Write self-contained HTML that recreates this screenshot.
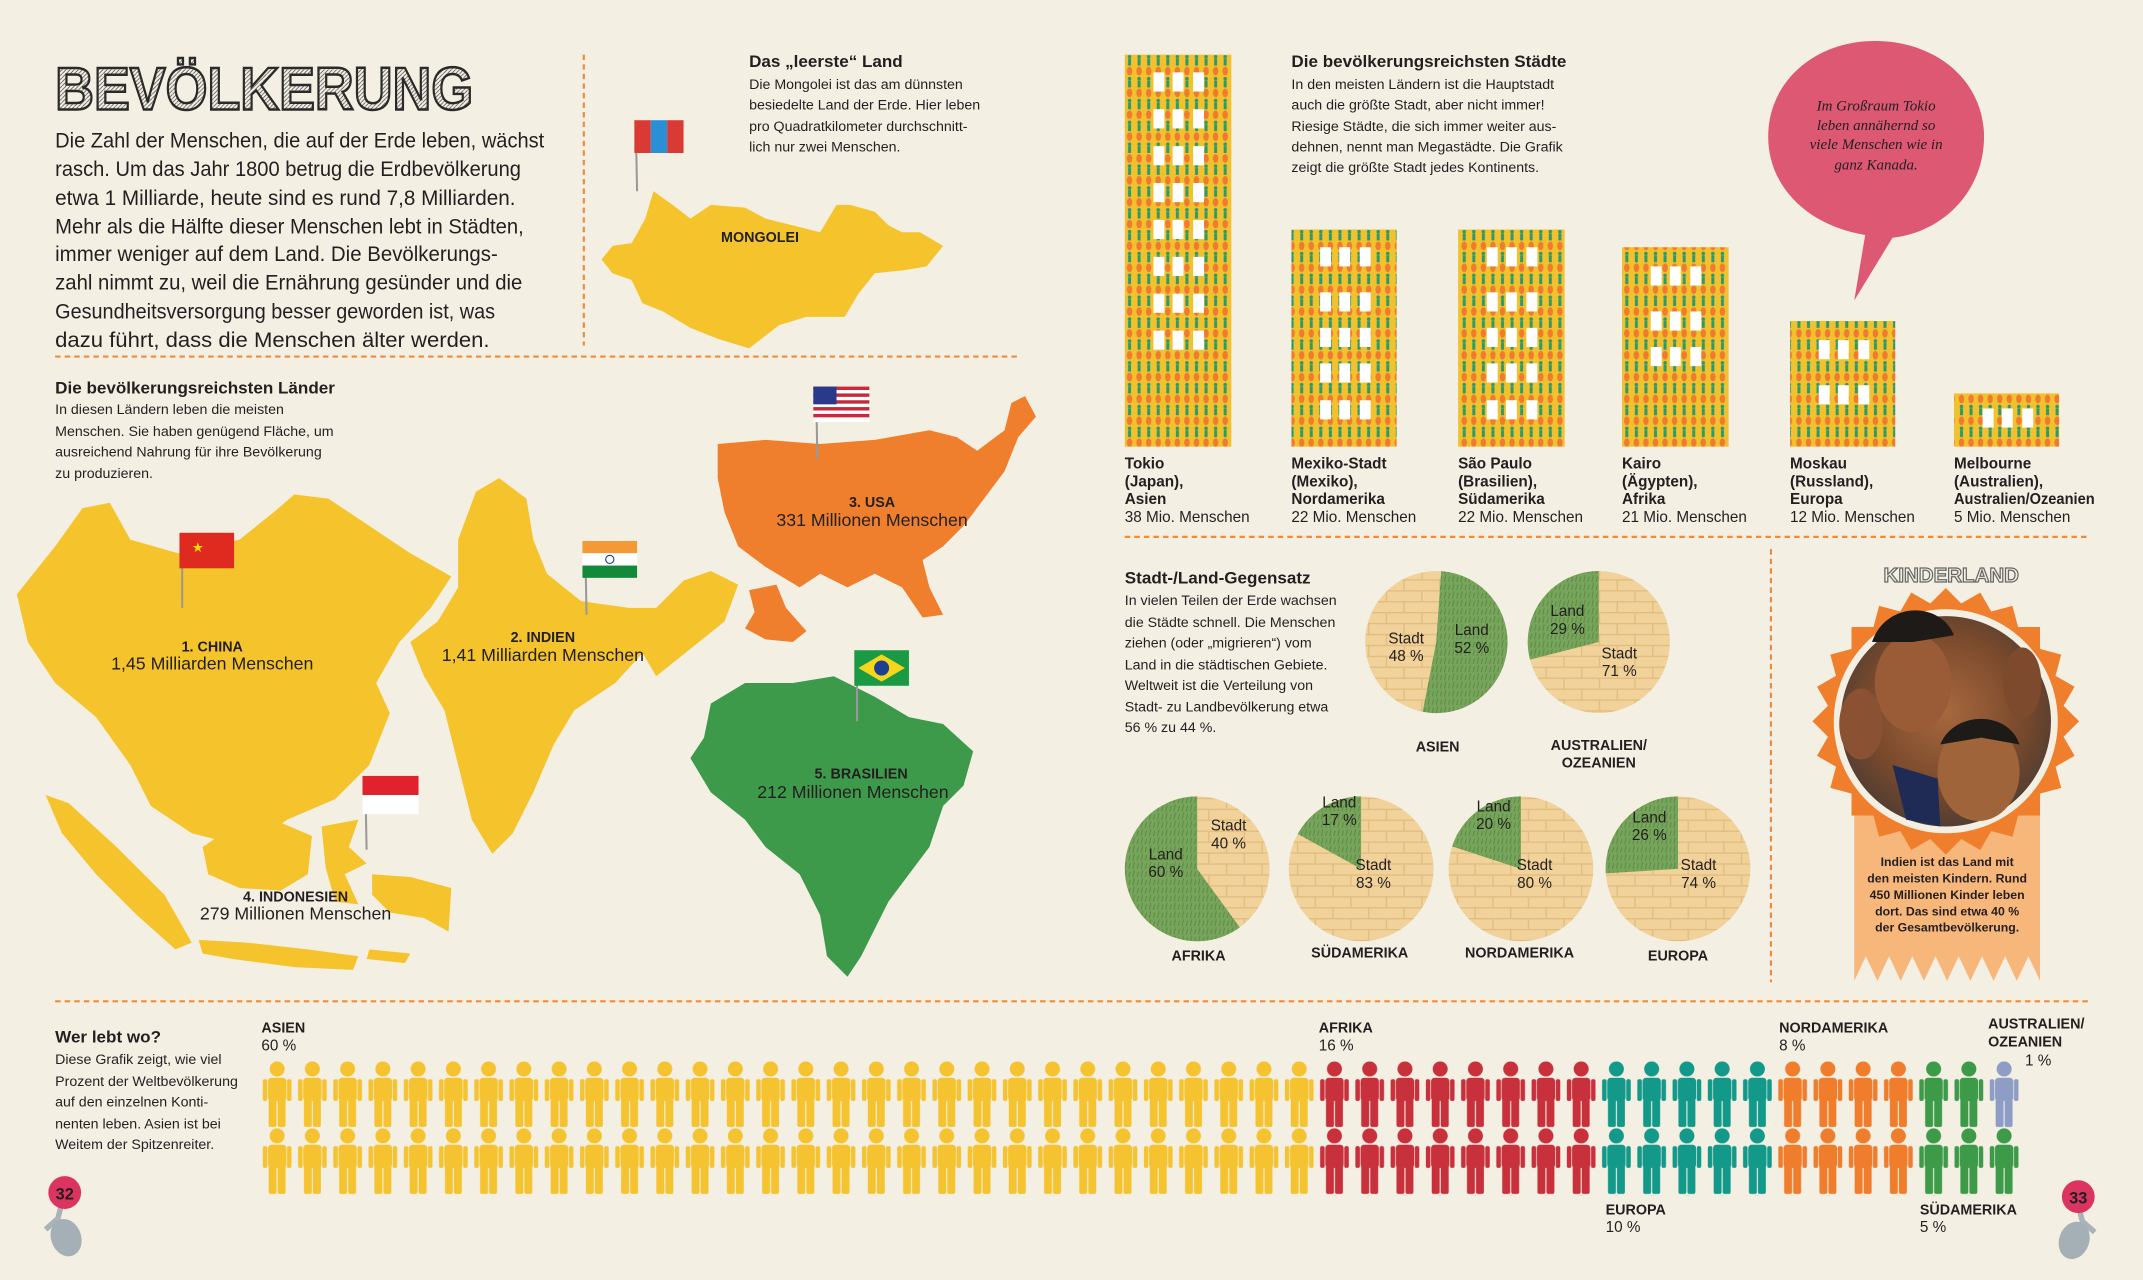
<!DOCTYPE html>
<html><head><meta charset="utf-8">
<style>
html,body{margin:0;padding:0;background:#f4efe3;}
svg{display:block}
text{font-family:"Liberation Sans Narrow","Liberation Sans",sans-serif;fill:#231f20}
.h{font-family:"Liberation Sans",sans-serif;font-weight:bold;font-size:12.5px}
.b{font-size:10.4px}
.lb{font-family:"Liberation Sans",sans-serif;font-weight:bold;font-size:10.5px}
.c{font-size:11.2px}
.m{font-size:15.8px}
</style></head><body>
<svg width="2143" height="1280" viewBox="0 0 1568 937" xmlns="http://www.w3.org/2000/svg">
<defs>
<g id="p">
<circle cx="11.5" cy="5.5" r="5.5"/>
<rect x="4.8" y="12" width="13.4" height="17" rx="2.5"/>
<rect x="1" y="13" width="3.3" height="16" rx="1.5"/>
<rect x="18.7" y="13" width="3.3" height="16" rx="1.5"/>
<rect x="5.3" y="27" width="5.8" height="21" rx="1.5"/>
<rect x="11.9" y="27" width="5.8" height="21" rx="1.5"/>
</g>
<pattern id="py" patternUnits="userSpaceOnUse" x="191" y="777" width="25.8" height="49"><use href="#p" fill="#f5c330"/></pattern>
<pattern id="pr" patternUnits="userSpaceOnUse" x="191" y="777" width="25.8" height="49"><use href="#p" fill="#c8303b"/></pattern>
<pattern id="pt" patternUnits="userSpaceOnUse" x="191" y="777" width="25.8" height="49"><use href="#p" fill="#12998a"/></pattern>
<pattern id="po" patternUnits="userSpaceOnUse" x="191" y="777" width="25.8" height="49"><use href="#p" fill="#ef7d2b"/></pattern>
<pattern id="pg" patternUnits="userSpaceOnUse" x="191" y="777" width="25.8" height="49"><use href="#p" fill="#3c9a48"/></pattern>
<pattern id="pb" patternUnits="userSpaceOnUse" x="191" y="777" width="25.8" height="49"><use href="#p" fill="#8e9dc6"/></pattern>
<pattern id="bld" patternUnits="userSpaceOnUse" x="823" y="40" width="7" height="16">
<rect width="7" height="16" fill="#f2c12e"/>
<circle cx="3.5" cy="1.6" r="1.3" fill="#2e9a6a"/>
<rect x="2.4" y="3" width="2.2" height="5" fill="#2e9a6a"/>
<ellipse cx="3.5" cy="12" rx="2" ry="3.2" fill="#ef7a30"/>
</pattern>
<pattern id="brick" patternUnits="userSpaceOnUse" width="26" height="16">
<rect width="26" height="16" fill="#f0d29a"/>
<path d="M0 0.5H26M0 8.5H26M0.5 0V8M13.5 8V16" stroke="#e2bd7e" stroke-width="1"/>
</pattern>
<pattern id="grass" patternUnits="userSpaceOnUse" width="6" height="6">
<rect width="6" height="6" fill="#78a55c"/>
<path d="M1 6L2 1M4 6L5 2" stroke="#5e8c47" stroke-width="0.8"/>
</pattern>
<pattern id="sk" patternUnits="userSpaceOnUse" width="3" height="3">
<rect width="3" height="3" fill="#f4efe3"/>
<path d="M0 3L3 0" stroke="#555" stroke-width="0.6"/>
</pattern>
<radialGradient id="ph" cx="0.5" cy="0.45" r="0.6">
<stop offset="0" stop-color="#a8683e"/><stop offset="0.6" stop-color="#7a4a2c"/><stop offset="1" stop-color="#4a3a34"/>
</radialGradient>
</defs>

<rect width="1568" height="937" fill="#f4efe3"/>

<g stroke="#ef8c3c" stroke-width="1.6" stroke-dasharray="4,3" fill="none">
<line x1="427" y1="40" x2="427" y2="253"/>
<line x1="40" y1="261" x2="745" y2="261"/>
<line x1="823" y1="393" x2="1530" y2="393"/>
<line x1="1296" y1="402" x2="1296" y2="719"/>
<line x1="40" y1="733" x2="1530" y2="733"/>
</g>

<text x="40" y="80" font-weight="bold" font-size="44" textLength="306" lengthAdjust="spacingAndGlyphs" style="fill:url(#sk);stroke:#2a2a2a;stroke-width:1.8;font-family:'Liberation Sans',sans-serif">BEVÖLKERUNG</text>
<text class="m" x="40" y="108" textLength="358" lengthAdjust="spacingAndGlyphs">Die Zahl der Menschen, die auf der Erde leben, wächst</text>
<text class="m" x="40" y="129" textLength="341" lengthAdjust="spacingAndGlyphs">rasch. Um das Jahr 1800 betrug die Erdbevölkerung</text>
<text class="m" x="40" y="150" textLength="337" lengthAdjust="spacingAndGlyphs">etwa 1 Milliarde, heute sind es rund 7,8 Milliarden.</text>
<text class="m" x="40" y="171" textLength="343" lengthAdjust="spacingAndGlyphs">Mehr als die Hälfte dieser Menschen lebt in Städten,</text>
<text class="m" x="40" y="191" textLength="324" lengthAdjust="spacingAndGlyphs">immer weniger auf dem Land. Die Bevölkerungs-</text>
<text class="m" x="40" y="212" textLength="342" lengthAdjust="spacingAndGlyphs">zahl nimmt zu, weil die Ernährung gesünder und die</text>
<text class="m" x="40" y="233" textLength="322" lengthAdjust="spacingAndGlyphs">Gesundheitsversorgung besser geworden ist, was</text>
<text class="m" x="40" y="254" textLength="318" lengthAdjust="spacingAndGlyphs">dazu führt, dass die Menschen älter werden.</text>

<text class="h" x="548" y="49">Das „leerste“ Land</text>
<text class="b" x="548" y="65">Die Mongolei ist das am dünnsten</text>
<text class="b" x="548" y="80">besiedelte Land der Erde. Hier leben</text>
<text class="b" x="548" y="96">pro Quadratkilometer durchschnitt-</text>
<text class="b" x="548" y="111">lich nur zwei Menschen.</text>
<path fill="#f5c42d" d="M440,190 L448,180 L462,178 L472,160 L478,140 L492,150 L505,160 L520,150 L545,152 L560,160 L580,165 L600,170 L612,150 L622,150 L640,155 L650,165 L660,170 L673,170 L690,180 L678,195 L660,198 L640,200 L628,215 L618,232 L590,232 L570,238 L548,255 L525,248 L505,240 L485,228 L470,222 L462,205 L448,200 Z"/>
<text class="lb" x="556" y="177" text-anchor="middle">MONGOLEI</text>
<line x1="465" y1="90" x2="466" y2="140" stroke="#999" stroke-width="1.5"/>
<rect x="464" y="88" width="12" height="24" fill="#d93a33"/><rect x="476" y="88" width="12" height="24" fill="#2a8fd6"/><rect x="488" y="88" width="12" height="24" fill="#d93a33"/>

<text class="h" x="40" y="288">Die bevölkerungsreichsten Länder</text>
<text class="b" x="40" y="303">In diesen Ländern leben die meisten</text>
<text class="b" x="40" y="319">Menschen. Sie haben genügend Fläche, um</text>
<text class="b" x="40" y="334">ausreichend Nahrung für ihre Bevölkerung</text>
<text class="b" x="40" y="350">zu produzieren.</text>

<path fill="#f5c42d" d="M12,435 L40,400 L60,372 L80,368 L95,395 L130,405 L175,395 L200,375 L215,362 L240,365 L270,385 L300,405 L330,422 L315,445 L292,470 L275,500 L285,522 L270,560 L245,585 L210,600 L180,620 L140,610 L110,590 L95,560 L70,525 L40,500 L20,470 Z"/>
<path fill="#f5c42d" d="M300,470 L320,455 L335,430 L335,395 L348,360 L365,350 L385,365 L390,395 L400,420 L425,440 L460,445 L480,445 L500,425 L520,418 L540,428 L530,455 L505,475 L480,495 L470,478 L450,500 L420,520 L405,545 L390,580 L375,610 L360,625 L345,600 L335,560 L325,520 L310,495 Z"/>
<g fill="#f5c42d">
<path d="M33,582 L50,588 L85,620 L120,655 L140,690 L128,695 L100,670 L70,640 L45,610 Z"/>
<path d="M145,688 L180,690 L225,695 L262,700 L258,710 L215,708 L170,702 L148,698 Z"/>
<path d="M148,620 L170,605 L200,600 L228,612 L225,640 L205,652 L175,650 L152,640 Z"/>
<path d="M235,605 L262,600 L255,620 L268,632 L252,640 L262,662 L245,660 L238,635 Z"/>
<path d="M272,640 L300,642 L330,650 L328,682 L310,672 L285,668 L272,655 Z"/>
<path d="M270,695 L300,698 L296,705 L268,702 Z"/>
</g>
<path fill="#ef7f2c" d="M525,325 L560,322 L600,325 L640,322 L680,315 L700,320 L715,330 L735,315 L740,295 L750,290 L758,305 L745,320 L735,345 L720,365 L705,385 L690,400 L675,410 L680,430 L690,450 L675,452 L660,430 L640,420 L620,430 L600,420 L585,430 L560,415 L540,400 L530,375 L525,350 Z"/>
<path fill="#ef7f2c" d="M548,432 L568,428 L575,445 L590,462 L580,470 L560,468 L545,460 L552,448 Z"/>
<path fill="#3d9a4b" d="M520,515 L545,500 L580,500 L610,495 L640,510 L665,525 L690,530 L712,550 L705,575 L690,590 L680,620 L665,640 L650,660 L640,680 L630,700 L620,715 L605,700 L600,670 L585,640 L560,620 L545,600 L520,580 L505,555 L515,540 Z"/>

<g stroke="#999" stroke-width="1.5"><line x1="133" y1="392" x2="133" y2="445"/><line x1="428" y1="398" x2="429" y2="450"/><line x1="597" y1="285" x2="598" y2="336"/><line x1="267" y1="570" x2="268" y2="622"/><line x1="627" y1="477" x2="627" y2="528"/></g>
<rect x="131" y="390" width="40" height="26" fill="#de2a1f"/><text x="140" y="404" style="fill:#ffde00;font-size:10px">★</text>
<rect x="426" y="396" width="40" height="9" fill="#f39a36"/><rect x="426" y="405" width="40" height="9" fill="#fff"/><rect x="426" y="414" width="40" height="9" fill="#138a3a"/><circle cx="446" cy="409.5" r="3" fill="none" stroke="#1a3a8a" stroke-width="0.8"/>
<rect x="595" y="283" width="41" height="26" fill="#fff"/><g fill="#c8283a"><rect x="595" y="283" width="41" height="2.5"/><rect x="595" y="288" width="41" height="2.5"/><rect x="595" y="293" width="41" height="2.5"/><rect x="595" y="298" width="41" height="2.5"/><rect x="595" y="303" width="41" height="2.5"/></g><rect x="595" y="283" width="17" height="13" fill="#2a3a8a"/>
<rect x="265" y="568" width="41" height="14" fill="#e0222d"/><rect x="265" y="582" width="41" height="14" fill="#fff"/>
<rect x="625" y="476" width="40" height="26" fill="#1a9a44"/><path d="M645,479 L662,489 L645,499 L628,489 Z" fill="#f7d51b"/><circle cx="645" cy="489" r="5.5" fill="#1d3f8f"/>

<text class="lb" x="155" y="477" text-anchor="middle">1. CHINA</text><text x="155" y="490" text-anchor="middle" style="font-size:13px">1,45 Milliarden Menschen</text>
<text class="lb" x="397" y="470" text-anchor="middle">2. INDIEN</text><text x="397" y="484" text-anchor="middle" style="font-size:13px">1,41 Milliarden Menschen</text>
<text class="lb" x="638" y="371" text-anchor="middle">3. USA</text><text x="638" y="385" text-anchor="middle" style="font-size:13px">331 Millionen Menschen</text>
<text class="lb" x="216" y="660" text-anchor="middle">4. INDONESIEN</text><text x="216" y="673" text-anchor="middle" style="font-size:13px">279 Millionen Menschen</text>
<text class="lb" x="630" y="570" text-anchor="middle">5. BRASILIEN</text><text x="624" y="584" text-anchor="middle" style="font-size:13px">212 Millionen Menschen</text>

<g fill="url(#bld)">
<rect x="823" y="40" width="78" height="287"/>
<rect x="945" y="168" width="77" height="159"/>
<rect x="1067" y="168" width="78" height="159"/>
<rect x="1187" y="181" width="78" height="146"/>
<rect x="1310" y="235" width="77" height="92"/>
<rect x="1430" y="288" width="77" height="39"/>
</g>
<g fill="#fff">
<g id="w3"><rect x="844" y="53" width="8" height="14"/><rect x="858" y="53" width="8" height="14"/><rect x="873" y="53" width="8" height="14"/></g>
<use href="#w3" y="27"/><use href="#w3" y="54"/><use href="#w3" y="81"/><use href="#w3" y="108"/><use href="#w3" y="135"/><use href="#w3" y="162"/><use href="#w3" y="189"/>
<use href="#w3" x="122" y="128"/><use href="#w3" x="122" y="161"/><use href="#w3" x="122" y="187"/><use href="#w3" x="122" y="213"/><use href="#w3" x="122" y="240"/>
<use href="#w3" x="244" y="128"/><use href="#w3" x="244" y="161"/><use href="#w3" x="244" y="187"/><use href="#w3" x="244" y="213"/><use href="#w3" x="244" y="240"/>
<use href="#w3" x="364" y="142"/><use href="#w3" x="364" y="175"/><use href="#w3" x="364" y="201"/>
<use href="#w3" x="487" y="196"/><use href="#w3" x="487" y="229"/>
<use href="#w3" x="607" y="246"/>
</g>
<text class="h" x="945" y="49">Die bevölkerungsreichsten Städte</text>
<text class="b" x="945" y="65">In den meisten Ländern ist die Hauptstadt</text>
<text class="b" x="945" y="80">auch die größte Stadt, aber nicht immer!</text>
<text class="b" x="945" y="96">Riesige Städte, die sich immer weiter aus-</text>
<text class="b" x="945" y="111">dehnen, nennt man Megastädte. Die Grafik</text>
<text class="b" x="945" y="126">zeigt die größte Stadt jedes Kontinents.</text>

<text class="c" x="823" y="343" font-weight="bold">Tokio</text><text class="c" x="823" y="356" font-weight="bold">(Japan),</text><text class="c" x="823" y="369" font-weight="bold">Asien</text><text class="c" x="823" y="382">38 Mio. Menschen</text>
<text class="c" x="945" y="343" font-weight="bold">Mexiko-Stadt</text><text class="c" x="945" y="356" font-weight="bold">(Mexiko),</text><text class="c" x="945" y="369" font-weight="bold">Nordamerika</text><text class="c" x="945" y="382">22 Mio. Menschen</text>
<text class="c" x="1067" y="343" font-weight="bold">São Paulo</text><text class="c" x="1067" y="356" font-weight="bold">(Brasilien),</text><text class="c" x="1067" y="369" font-weight="bold">Südamerika</text><text class="c" x="1067" y="382">22 Mio. Menschen</text>
<text class="c" x="1187" y="343" font-weight="bold">Kairo</text><text class="c" x="1187" y="356" font-weight="bold">(Ägypten),</text><text class="c" x="1187" y="369" font-weight="bold">Afrika</text><text class="c" x="1187" y="382">21 Mio. Menschen</text>
<text class="c" x="1310" y="343" font-weight="bold">Moskau</text><text class="c" x="1310" y="356" font-weight="bold">(Russland),</text><text class="c" x="1310" y="369" font-weight="bold">Europa</text><text class="c" x="1310" y="382">12 Mio. Menschen</text>
<text class="c" x="1430" y="343" font-weight="bold">Melbourne</text><text class="c" x="1430" y="356" font-weight="bold">(Australien),</text><text class="c" x="1430" y="369" font-weight="bold" textLength="103" lengthAdjust="spacingAndGlyphs">Australien/Ozeanien</text><text class="c" x="1430" y="382">5 Mio. Menschen</text>

<path fill="#dc5873" d="M1372,30 C1418,30 1452,60 1452,100 C1452,140 1422,170 1385,174 L1357,220 L1365,172 C1322,165 1294,136 1294,100 C1294,60 1328,30 1372,30 Z"/>
<text x="1373" y="81" text-anchor="middle" style="font-family:'Liberation Serif',serif;font-style:italic;font-size:11px">Im Großraum Tokio</text>
<text x="1373" y="95" text-anchor="middle" style="font-family:'Liberation Serif',serif;font-style:italic;font-size:11px">leben annähernd so</text>
<text x="1373" y="109" text-anchor="middle" style="font-family:'Liberation Serif',serif;font-style:italic;font-size:11px">viele Menschen wie in</text>
<text x="1373" y="124" text-anchor="middle" style="font-family:'Liberation Serif',serif;font-style:italic;font-size:11px">ganz Kanada.</text>

<text class="h" x="823" y="427">Stadt-/Land-Gegensatz</text>
<text class="b" x="823" y="443">In vielen Teilen der Erde wachsen</text>
<text class="b" x="823" y="459">die Städte schnell. Die Menschen</text>
<text class="b" x="823" y="474">ziehen (oder „migrieren“) vom</text>
<text class="b" x="823" y="490">Land in die städtischen Gebiete.</text>
<text class="b" x="823" y="505">Weltweit ist die Verteilung von</text>
<text class="b" x="823" y="521">Stadt- zu Landbevölkerung etwa</text>
<text class="b" x="823" y="536">56 % zu 44 %.</text>

<g fill="url(#brick)">
<circle cx="1051" cy="470" r="52"/><circle cx="1170" cy="470" r="52"/>
<circle cx="876" cy="636" r="53"/><circle cx="996" cy="636" r="53"/><circle cx="1113" cy="636" r="53"/><circle cx="1228" cy="636" r="53"/>
</g>
<g fill="url(#grass)">
<path d="M1051,470 L1054.6,418.1 A52,52 0 1 1 1041.1,521 Z"/>
<path d="M1170,470 L1170,418 A52,52 0 0 0 1119.6,482.9 Z"/>
<path d="M876,636 L876,583 A53,53 0 1 0 907.2,678.9 Z"/>
<path d="M996,636 L996,583 A53,53 0 0 0 949.6,610.5 Z"/>
<path d="M1113,636 L1113,583 A53,53 0 0 0 1062.6,619.6 Z"/>
<path d="M1228,636 L1228,583 A53,53 0 0 0 1175.1,639.3 Z"/>
</g>
<text class="c" x="1029" y="471" text-anchor="middle">Stadt</text><text class="c" x="1029" y="484" text-anchor="middle">48 %</text>
<text class="c" x="1077" y="465" text-anchor="middle">Land</text><text class="c" x="1077" y="478" text-anchor="middle">52 %</text>
<text class="c" x="1147" y="451" text-anchor="middle">Land</text><text class="c" x="1147" y="464" text-anchor="middle">29 %</text>
<text class="c" x="1185" y="482" text-anchor="middle">Stadt</text><text class="c" x="1185" y="495" text-anchor="middle">71 %</text>
<text class="c" x="853" y="629" text-anchor="middle">Land</text><text class="c" x="853" y="642" text-anchor="middle">60 %</text>
<text class="c" x="899" y="608" text-anchor="middle">Stadt</text><text class="c" x="899" y="621" text-anchor="middle">40 %</text>
<text class="c" x="980" y="591" text-anchor="middle">Land</text><text class="c" x="980" y="604" text-anchor="middle">17 %</text>
<text class="c" x="1005" y="637" text-anchor="middle">Stadt</text><text class="c" x="1005" y="650" text-anchor="middle">83 %</text>
<text class="c" x="1093" y="594" text-anchor="middle">Land</text><text class="c" x="1093" y="607" text-anchor="middle">20 %</text>
<text class="c" x="1123" y="637" text-anchor="middle">Stadt</text><text class="c" x="1123" y="650" text-anchor="middle">80 %</text>
<text class="c" x="1207" y="602" text-anchor="middle">Land</text><text class="c" x="1207" y="615" text-anchor="middle">26 %</text>
<text class="c" x="1243" y="637" text-anchor="middle">Stadt</text><text class="c" x="1243" y="650" text-anchor="middle">74 %</text>
<text class="lb" x="1052" y="550" text-anchor="middle">ASIEN</text>
<text class="lb" x="1170" y="549" text-anchor="middle">AUSTRALIEN/</text><text class="lb" x="1170" y="562" text-anchor="middle">OZEANIEN</text>
<text class="lb" x="877" y="703" text-anchor="middle">AFRIKA</text>
<text class="lb" x="995" y="701" text-anchor="middle">SÜDAMERIKA</text>
<text class="lb" x="1112" y="701" text-anchor="middle">NORDAMERIKA</text>
<text class="lb" x="1228" y="703" text-anchor="middle">EUROPA</text>

<polygon fill="#f7b67a" points="1357,560 1493,560 1493,718 1484.5,700 1476,718 1467.5,700 1459,718 1450.5,700 1442,718 1433.5,700 1425,718 1416.5,700 1408,718 1399.5,700 1391,718 1382.5,700 1374,718 1365.5,700 1357,718"/>
<g fill="#ef7f2c" transform="translate(1424,528)">
<rect x="-69" y="-69" width="138" height="138"/>
<rect x="-69" y="-69" width="138" height="138" transform="rotate(15)"/>
<rect x="-69" y="-69" width="138" height="138" transform="rotate(30)"/>
<rect x="-69" y="-69" width="138" height="138" transform="rotate(45)"/>
<rect x="-69" y="-69" width="138" height="138" transform="rotate(60)"/>
<rect x="-69" y="-69" width="138" height="138" transform="rotate(75)"/>
</g>
<circle cx="1424" cy="528" r="82" fill="#f4efe3"/>
<circle cx="1424" cy="528" r="77" fill="url(#ph)"/>
<ellipse cx="1400" cy="500" rx="28" ry="36" fill="#9a5c36"/>
<ellipse cx="1448" cy="565" rx="30" ry="36" fill="#a0643a"/>
<ellipse cx="1362" cy="530" rx="16" ry="26" fill="#8a5232"/>
<ellipse cx="1480" cy="500" rx="14" ry="26" fill="#7e4a2e"/>
<path d="M1370,470 C1380,440 1420,440 1430,465 L1400,470 Z" fill="#1e1a18"/>
<path d="M1420,545 C1430,520 1470,520 1478,545 L1450,540 Z" fill="#1e1a18"/>
<path d="M1385,560 L1418,570 L1420,605 L1395,600 Z" fill="#1f2a55"/>
<text x="1428" y="426" text-anchor="middle" style="font-family:'Liberation Sans',sans-serif;font-weight:bold;font-size:15px;fill:#f4efe3;stroke:#666;stroke-width:0.9">KINDERLAND</text>
<text x="1425" y="634" text-anchor="middle" style="font-family:'Liberation Sans',sans-serif;font-weight:bold;font-size:9px">Indien ist das Land mit</text>
<text x="1425" y="646" text-anchor="middle" style="font-family:'Liberation Sans',sans-serif;font-weight:bold;font-size:9px">den meisten Kindern. Rund</text>
<text x="1425" y="658" text-anchor="middle" style="font-family:'Liberation Sans',sans-serif;font-weight:bold;font-size:9px">450 Millionen Kinder leben</text>
<text x="1425" y="670" text-anchor="middle" style="font-family:'Liberation Sans',sans-serif;font-weight:bold;font-size:9px">dort. Das sind etwa 40 %</text>
<text x="1425" y="682" text-anchor="middle" style="font-family:'Liberation Sans',sans-serif;font-weight:bold;font-size:9px">der Gesamtbevölkerung.</text>

<text class="h" x="40" y="763">Wer lebt wo?</text>
<text class="b" x="40" y="779">Diese Grafik zeigt, wie viel</text>
<text class="b" x="40" y="795">Prozent der Weltbevölkerung</text>
<text class="b" x="40" y="810">auf den einzelnen Konti-</text>
<text class="b" x="40" y="826">nenten leben. Asien ist bei</text>
<text class="b" x="40" y="841">Weitem der Spitzenreiter.</text>

<rect x="191" y="777" width="774" height="98" fill="url(#py)"/>
<rect x="965" y="777" width="206.4" height="98" fill="url(#pr)"/>
<rect x="1171.4" y="777" width="129" height="98" fill="url(#pt)"/>
<rect x="1300.4" y="777" width="103.2" height="98" fill="url(#po)"/>
<rect x="1403.6" y="777" width="51.6" height="49" fill="url(#pg)"/>
<rect x="1455.2" y="777" width="25.8" height="49" fill="url(#pb)"/>
<rect x="1403.6" y="826" width="77.4" height="49" fill="url(#pg)"/>

<text class="lb" x="191" y="756">ASIEN</text><text class="c" x="191" y="769">60 %</text>
<text class="lb" x="965" y="756">AFRIKA</text><text class="c" x="965" y="769">16 %</text>
<text class="lb" x="1302" y="756">NORDAMERIKA</text><text class="c" x="1302" y="769">8 %</text>
<text class="lb" x="1455" y="753">AUSTRALIEN/</text><text class="lb" x="1455" y="766">OZEANIEN</text><text class="c" x="1482" y="780">1 %</text>
<text class="lb" x="1175" y="889">EUROPA</text><text class="c" x="1175" y="902">10 %</text>
<text class="lb" x="1405" y="889">SÜDAMERIKA</text><text class="c" x="1405" y="902">5 %</text>

<path d="M45,880 L42,892 L33,900" stroke="#aab3b8" stroke-width="4" fill="none"/>
<ellipse cx="48" cy="906" rx="11" ry="14" fill="#a5b0b6" transform="rotate(-20 48 906)"/>
<circle cx="47" cy="873" r="12" fill="#dc3461"/>
<text x="47" y="878" text-anchor="middle" style="font-family:'Liberation Sans',sans-serif;font-weight:bold;font-size:12px">32</text>
<path d="M1521,882 L1524,894 L1533,902" stroke="#aab3b8" stroke-width="4" fill="none"/>
<ellipse cx="1518" cy="908" rx="11" ry="14" fill="#a5b0b6" transform="rotate(20 1518 908)"/>
<circle cx="1521" cy="876" r="12" fill="#dc3461"/>
<text x="1521" y="881" text-anchor="middle" style="font-family:'Liberation Sans',sans-serif;font-weight:bold;font-size:12px">33</text>
</svg>
</body></html>
